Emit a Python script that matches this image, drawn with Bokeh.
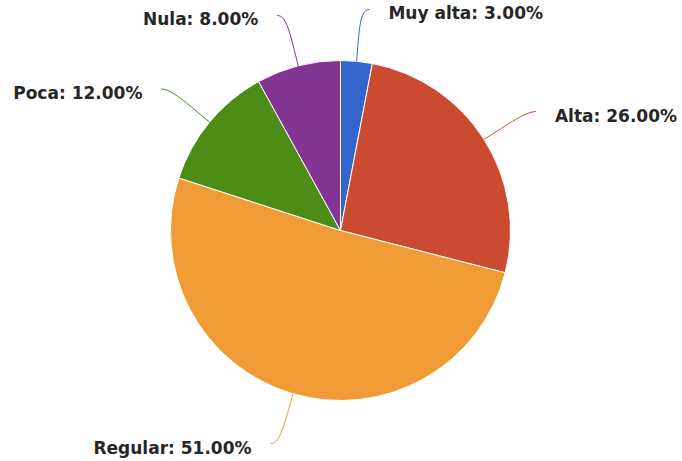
import numpy as np
from bokeh.plotting import figure
from bokeh.models import Range1d, ColumnDataSource
from bokeh.embed import file_html
from bokeh.resources import INLINE
from bokeh.core.properties import value

categories = ["Muy alta", "Alta", "Regular", "Poca", "Nula"]
percentages = [3.0, 26.0, 51.0, 12.0, 8.0]
colors = ["#3366CC", "#CB4B30", "#F09B35", "#4C8C17", "#833595"]

W, H = 682, 461
CX, CY = 340, 461 - 230
R = 170

p = figure(width=W, height=H, x_range=Range1d(0, W), y_range=Range1d(0, H),
           output_backend="svg", toolbar_location=None, min_border=0)
p.axis.visible = False
p.grid.visible = False
p.outline_line_color = None
p.background_fill_color = "white"
p.border_fill_color = "white"

vals = np.array(percentages)
frac = vals / vals.sum()
cum_end = np.cumsum(frac)
cum_start = cum_end - frac
start = np.pi / 2 - 2 * np.pi * cum_start
end = np.pi / 2 - 2 * np.pi * cum_end
mid = (start + end) / 2

src = ColumnDataSource(dict(start=start, end=end, color=colors))
p.wedge(x=CX, y=CY, radius=R, start_angle="start", end_angle="end",
        direction="clock", fill_color="color", line_color="white",
        line_width=1, source=src)

# connectors and labels
x0 = CX + R * np.cos(mid)
y0 = CY + R * np.sin(mid)
sign = np.where(np.cos(mid) >= 0, 1, -1)
x1 = CX + 222 * np.cos(mid) + sign * 8
y1 = CY + 222 * np.sin(mid)
cx0 = CX + 200 * np.cos(mid)
cy0 = CY + 200 * np.sin(mid)
cx1 = x1 - sign * 10
cy1 = y1

csrc = ColumnDataSource(dict(x0=x0, y0=y0, x1=x1, y1=y1, cx0=cx0, cy0=cy0,
                             cx1=cx1, cy1=cy1, color=colors))
p.bezier(x0="x0", y0="y0", x1="x1", y1="y1", cx0="cx0", cy0="cy0",
         cx1="cx1", cy1="cy1", line_color="color", line_width=1, source=csrc)

labels = [f"{c}: {v:.2f}%" for c, v in zip(categories, percentages)]
lx = x1 + sign * 19
ly = y1 - 4
align = ["left" if s > 0 else "right" for s in sign]
lsrc = ColumnDataSource(dict(x=lx, y=ly, text=labels, align=align))
p.text(x="x", y="y", text="text", text_align="align", text_baseline="middle",
       text_font=value("DejaVu Sans"), text_font_style="bold",
       text_font_size="17px", text_color="#262626", source=lsrc)

open("out.html", "w").write(file_html(p, INLINE))
